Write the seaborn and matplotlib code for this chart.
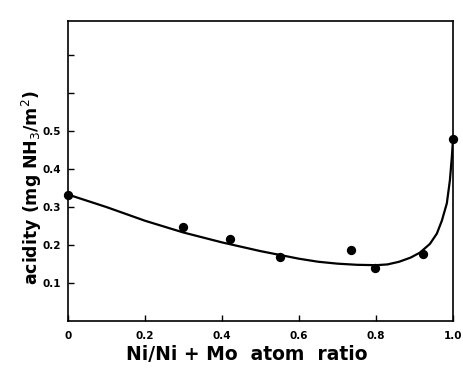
import matplotlib
matplotlib.use("Agg")
import matplotlib.pyplot as plt
import seaborn as sns
import pandas as pd

# measured points
ratio = [0.0, 0.298, 0.422, 0.551, 0.736, 0.797, 0.923, 1.0]
acidity = [0.333, 0.247, 0.217, 0.169, 0.186, 0.139, 0.176, 0.479]

# fitted curve
curve_x = [0.0, 0.1, 0.2, 0.3, 0.4, 0.5, 0.6, 0.65, 0.7, 0.75, 0.8, 0.83, 0.86, 0.89,
           0.914, 0.94, 0.958, 0.971, 0.984, 0.992, 0.997, 1.0]
curve_y = [0.333, 0.300, 0.264, 0.233, 0.207, 0.184, 0.164, 0.156, 0.151, 0.148, 0.147,
           0.149, 0.156, 0.167, 0.180, 0.203, 0.230, 0.264, 0.310, 0.371, 0.432, 0.479]

x_ticks = [0, 0.2, 0.4, 0.6, 0.8, 1.0]
x_tick_labels = ["0", "0.2", "0.4", "0.6", "0.8", "1.0"]
y_ticks = [0.1, 0.2, 0.3, 0.4, 0.5, 0.6, 0.7]
y_tick_labels = ["0.1", "0.2", "0.3", "0.4", "0.5", "", ""]

sns.set_style("ticks")
plt.rcParams['font.family'] = ['DejaVu Sans']
plt.rcParams['text.color'] = 'black'

fig = plt.figure(figsize=(4.63, 3.72), dpi=100)
ax = fig.add_axes([68/463, 1-321/372, (453-68)/463, (321-21)/372])

df_pts = pd.DataFrame({"x": ratio, "y": acidity})
df_curve = pd.DataFrame({"x": curve_x, "y": curve_y})

sns.lineplot(data=df_curve, x="x", y="y", ax=ax, color="black", linewidth=1.6,
             sort=False, estimator=None)
ax.lines[-1].set_solid_joinstyle("round")
sns.scatterplot(data=df_pts, x="x", y="y", ax=ax, color="black", s=45,
                edgecolor="black", linewidth=0, zorder=5, clip_on=False)

ax.set_xlim(0, 1.0)
ax.set_ylim(0, 0.79)
ax.set_xticks(x_ticks)
ax.set_xticklabels(x_tick_labels, fontsize=7.5, fontweight="bold")
ax.set_yticks(y_ticks)
ax.set_yticklabels(y_tick_labels, fontsize=7.5, fontweight="bold")
ax.tick_params(direction="in", length=4, width=1, colors="black")
ax.tick_params(axis="x", pad=7)
ax.tick_params(axis="y", pad=5)
ax.set_xlabel("")
ax.set_ylabel("")
for s in ax.spines.values():
    s.set_visible(True)
    s.set_linewidth(1.2)
    s.set_color("black")

fig.text(32/463, 1-188/372, r"acidity (mg NH$_3$/m$^2$)", rotation=90,
         ha="center", va="center", fontsize=12.5, fontweight="bold", color="black")
fig.text(247/463, 1-355/372, "Ni/Ni + Mo  atom  ratio", ha="center", va="center",
         fontsize=13.5, fontweight="bold", color="black")

fig.savefig("out.png", dpi=100)
